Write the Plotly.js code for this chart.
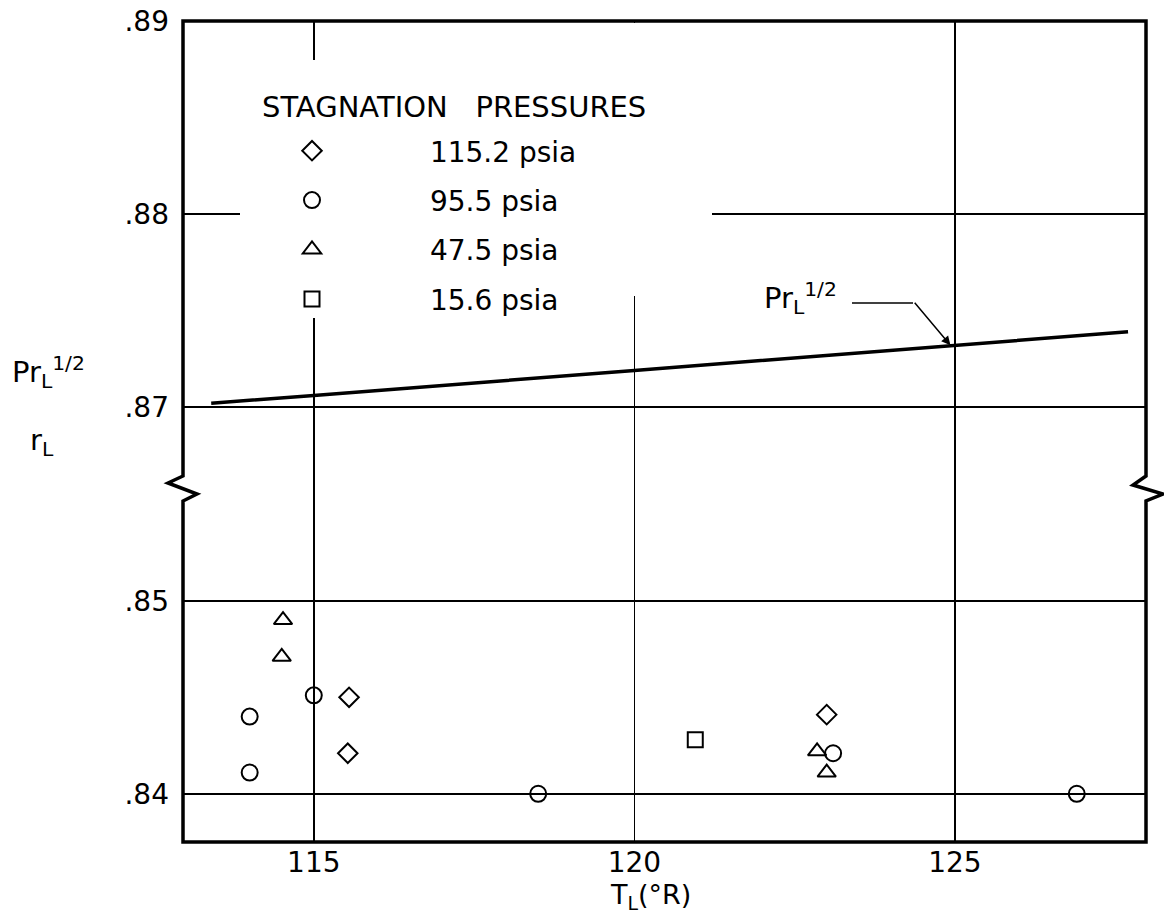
<!DOCTYPE html>
<html>
<head>
<meta charset="utf-8">
<script src="https://cdn.plot.ly/plotly-3.0.1.min.js"></script>
<style>html,body{margin:0;padding:0;background:#fff;}#chart{width:1164px;height:924px;}</style>
</head>
<body>
<div id="chart"></div>
<script>
// ---- data ----
const legendTitle = "STAGNATION\u00A0\u00A0\u00A0PRESSURES";
const seriesNames = ["115.2 psia", "95.5 psia", "47.5 psia", "15.6 psia"];
const seriesSymbols = ["diamond-open", "circle-open", "triangle-up-open", "square-open"];
const seriesSizes = [15, 16, 16, 15];

const diamondX = [115.55, 115.53, 123.0];
const diamondY = [0.8450, 0.8421, 0.8441];
const circleX = [114.0, 114.0, 115.0, 118.5, 123.1, 126.9];
const circleY = [0.8440, 0.8411, 0.8451, 0.8400, 0.8421, 0.8400];
const triangleX = [114.52, 114.5, 122.85, 123.0];
const triangleY = [0.8490, 0.8471, 0.8422, 0.8411];
const squareX = [120.95];
const squareY = [0.8428];

// Pr_L^(1/2) curve
const prX = [113.4, 115, 120, 125, 127.7];
const prY = [0.8702, 0.8706, 0.8719, 0.8732, 0.8739];

const xTicks = [115, 120, 125];
const xTickText = ["115", "120", "125"];
const yLowTicks = [0.84, 0.85];
const yLowTickText = [".84", ".85"];
const yHighTicks = [0.87, 0.88, 0.89];
const yHighTickText = [".87", ".88", ".89"];

const FONT = "DejaVu Sans, Arial, sans-serif";

const seriesX = [diamondX, circleX, triangleX, squareX];
const seriesY = [diamondY, circleY, triangleY, squareY];
const pad = "\u00A0".repeat(11);

const traces = seriesNames.map((n, i) => ({
  type: "scatter", mode: "markers",
  x: seriesX[i], y: seriesY[i], xaxis: "x", yaxis: "y",
  name: pad + n, legendgroup: "g" + i,
  marker: {symbol: seriesSymbols[i], size: seriesSizes[i], color: "black", line: {color: "black", width: 2}},
  hoverinfo: "x+y"
}));
traces.push({
  type: "scatter", mode: "lines", x: prX, y: prY, xaxis: "x", yaxis: "y2",
  line: {color: "black", width: 3.5}, showlegend: false, hoverinfo: "x+y"
});

const L = 183, T = 21, W = 963, H = 821;
const px = v => (v - L) / W;
const py = v => (T + H - v) / H;

const split = 0.431;
const layout = {
  width: 1164, height: 924,
  margin: {l: L, r: 1164 - L - W, t: T, b: 924 - T - H},
  paper_bgcolor: "white", plot_bgcolor: "white",
  font: {family: FONT, color: "black", size: 28},
  showlegend: true,
  legend: {
    x: px(292), y: py(126), xanchor: "left", yanchor: "top",
    bgcolor: "rgba(0,0,0,0)", borderwidth: 0,
    font: {family: FONT, size: 28, color: "black"},
    tracegroupgap: 10, itemsizing: "trace"
  },
  xaxis: {
    range: [112.96, 127.98], tickvals: xTicks, ticktext: xTickText,
    showgrid: true, gridcolor: "black", gridwidth: 1.5, zeroline: false,
    showline: false, ticks: "", anchor: "y", ticklabelstandoff: 1,
    tickfont: {family: FONT, size: 28, color: "black"}
  },
  yaxis: {
    domain: [0, split], range: [0.8375, 0.85584],
    tickvals: yLowTicks, ticktext: yLowTickText,
    showgrid: true, gridcolor: "black", gridwidth: 1.5, zeroline: false,
    showline: false, ticks: "", anchor: "x", ticklabelstandoff: 13,
    tickfont: {family: FONT, size: 28, color: "black"}
  },
  yaxis2: {
    domain: [split, 1], range: [0.8658, 0.89],
    tickvals: yHighTicks, ticktext: yHighTickText,
    showgrid: true, gridcolor: "black", gridwidth: 1.5, zeroline: false,
    showline: false, ticks: "", anchor: "x", ticklabelstandoff: 13,
    tickfont: {family: FONT, size: 28, color: "black"}
  },
  shapes: [
    // white area behind the legend (grid lines are interrupted there)
    {type: "path", xref: "paper", yref: "paper", layer: "above",
     path: `M${px(240)},${py(60)} L${px(330)},${py(60)} L${px(330)},${py(23)} L${px(712)},${py(23)} L${px(712)},${py(296)} L${px(330)},${py(296)} L${px(330)},${py(318)} L${px(240)},${py(318)} Z`,
     fillcolor: "white", line: {width: 0}},
    // frame with axis-break zigzags
    {type: "path", xref: "paper", yref: "paper", layer: "above",
     path: `M0,0 L0,${py(501)} L${px(197)},${py(494)} L${px(168)},${py(483)} L0,${py(476)} L0,1 L1,1 L1,${py(476)} L${px(1133)},${py(485)} L${px(1163)},${py(494)} L1,${py(501)} L1,0 Z`,
     fillcolor: "rgba(0,0,0,0)", line: {color: "black", width: 3.5}},
    // horizontal part of the leader line
    {type: "line", xref: "paper", yref: "paper", layer: "above",
     x0: px(852), x1: px(913), y0: py(303), y1: py(303),
     line: {color: "black", width: 1.5}}
  ],
  annotations: [
    {xref: "paper", yref: "paper", x: px(260), y: py(107), xanchor: "left", yanchor: "middle",
     text: legendTitle, showarrow: false, font: {family: FONT, size: 29, color: "black"}},
    {xref: "paper", yref: "paper", x: px(10), y: py(372), xanchor: "left", yanchor: "middle",
     text: "Pr<sub>L</sub><sup>1/2</sup>", showarrow: false, font: {family: FONT, size: 29, color: "black"}},
    {xref: "paper", yref: "paper", x: px(28), y: py(442), xanchor: "left", yanchor: "middle",
     text: "r<sub>L</sub>", showarrow: false, font: {family: FONT, size: 29, color: "black"}},
    {xref: "paper", yref: "paper", x: px(650), y: py(897), xanchor: "center", yanchor: "middle",
     text: "T<sub>L</sub>(°R)", showarrow: false, font: {family: FONT, size: 27, color: "black"}},
    {xref: "paper", yref: "paper", x: px(762), y: py(298), xanchor: "left", yanchor: "middle",
     text: "Pr<sub>L</sub><sup>1/2</sup>", showarrow: false, font: {family: FONT, size: 29, color: "black"}},
    {xref: "x", yref: "y2", x: 124.93, y: 0.8732, ax: -37, ay: -44, text: "",
     showarrow: true, arrowhead: 2, arrowsize: 1.2, arrowwidth: 1.5, arrowcolor: "black"}
  ]
};

Plotly.newPlot("chart", traces, layout, {displayModeBar: false, staticPlot: true});
</script>
</body>
</html>
